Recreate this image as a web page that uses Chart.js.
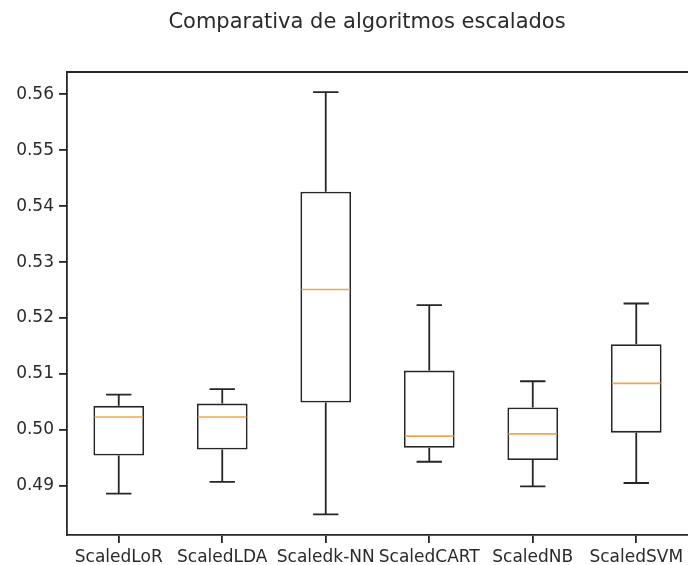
<!DOCTYPE html>
<html>
<head>
<meta charset="utf-8">
<script src="https://cdn.jsdelivr.net/npm/chart.js@4/dist/chart.umd.min.js"></script>
<style>
  html, body { margin: 0; padding: 0; background: #fff; overflow: hidden; }
  #wrap { width: 688px; height: 565px; }
</style>
</head>
<body>
<div id="wrap"><canvas id="box-chart"></canvas></div>
<script>
// box plot values
const algorithms = ["ScaledLoR", "ScaledLDA", "Scaledk-NN", "ScaledCART", "ScaledNB", "ScaledSVM"];
const whiskerLow  = [0.4886, 0.4907, 0.4849, 0.4943, 0.4899, 0.4905];
const quartile1   = [0.4954, 0.4965, 0.5049, 0.4968, 0.4946, 0.4995];
const medians     = [0.5023, 0.5023, 0.5251, 0.4989, 0.4993, 0.5083];
const quartile3   = [0.5043, 0.5047, 0.5426, 0.5106, 0.5040, 0.5153];
const whiskerHigh = [0.5063, 0.5073, 0.5604, 0.5223, 0.5087, 0.5226];
const yTicks = [0.49, 0.50, 0.51, 0.52, 0.53, 0.54, 0.55, 0.56];

const titleText = "Comparativa de algoritmos escalados";
const ink = "#262626";
const textInk = "#2a2a2a";
const fontFamily = "'DejaVu Sans', sans-serif";
const lineW = 1.8;

// whiskers, caps, medians, top frame and title
const boxExtras = {
  id: "boxExtras",
  afterDatasetsDraw(chart) {
    const ctx = chart.ctx;
    const x = chart.scales.x;
    const y = chart.scales.y;
    const area = chart.chartArea;
    const meta = chart.getDatasetMeta(0);
    ctx.save();
    ctx.lineCap = "butt";
    algorithms.forEach((name, i) => {
      const cx = x.getPixelForValue(i);
      const half = meta.data[i].width / 2;
      const cap = half / 2;
      ctx.strokeStyle = ink;
      ctx.lineWidth = lineW;
      ctx.beginPath();
      // lower whisker
      ctx.moveTo(cx, y.getPixelForValue(quartile1[i]));
      ctx.lineTo(cx, y.getPixelForValue(whiskerLow[i]));
      ctx.moveTo(cx - cap, y.getPixelForValue(whiskerLow[i]));
      ctx.lineTo(cx + cap, y.getPixelForValue(whiskerLow[i]));
      // upper whisker
      ctx.moveTo(cx, y.getPixelForValue(quartile3[i]));
      ctx.lineTo(cx, y.getPixelForValue(whiskerHigh[i]));
      ctx.moveTo(cx - cap, y.getPixelForValue(whiskerHigh[i]));
      ctx.lineTo(cx + cap, y.getPixelForValue(whiskerHigh[i]));
      ctx.stroke();
      // median
      ctx.strokeStyle = "#f2a650";
      ctx.lineWidth = 1.7;
      ctx.beginPath();
      ctx.moveTo(cx - half + 1, y.getPixelForValue(medians[i]));
      ctx.lineTo(cx + half - 1, y.getPixelForValue(medians[i]));
      ctx.stroke();
    });
    // top frame line
    ctx.strokeStyle = ink;
    ctx.lineWidth = lineW;
    ctx.beginPath();
    ctx.moveTo(area.left, area.top);
    ctx.lineTo(area.right, area.top);
    ctx.stroke();
    // title
    ctx.fillStyle = textInk;
    ctx.font = "21px " + fontFamily;
    ctx.textAlign = "center";
    ctx.textBaseline = "alphabetic";
    ctx.fillText(titleText, 367, 28);
    ctx.restore();
  }
};

const ctx = document.getElementById("box-chart").getContext("2d");

new Chart(ctx, {
  type: "bar",
  data: {
    labels: algorithms,
    datasets: [
      {
        label: "IQR",
        data: algorithms.map((_, i) => [quartile1[i], quartile3[i]]),
        backgroundColor: "#ffffff",
        borderColor: ink,
        borderWidth: lineW,
        borderSkipped: false,
        barPercentage: 0.49,
        categoryPercentage: 1.0,
      },
    ],
  },
  options: {
    responsive: true,
    maintainAspectRatio: false,
    animation: false,
    layout: { padding: { top: 72, right: 0, left: 0, bottom: 0 } },
    plugins: {
      legend: { display: false },
      title: { display: false },
      tooltip: { enabled: false },
    },
    scales: {
      x: {
        type: "category",
        offset: true,
        grid: { display: true, offset: false, drawOnChartArea: false, drawTicks: true, tickLength: 8, color: ink, lineWidth: lineW },
        border: { display: true, color: ink, width: lineW },
        ticks: { color: textInk, font: { family: fontFamily, size: 17 }, padding: 4, maxRotation: 0, autoSkip: false },
        afterFit(scale) { scale.height = 30; },
      },
      y: {
        type: "linear",
        min: 0.4812,
        max: 0.5640,
        grid: { display: true, drawOnChartArea: false, drawTicks: true, tickLength: 8, color: ink, lineWidth: lineW },
        border: { display: true, color: ink, width: lineW },
        ticks: {
          color: textInk,
          font: { family: fontFamily, size: 17 },
          padding: 5,
          callback: (v) => Number(v).toFixed(2),
        },
        afterBuildTicks(scale) { scale.ticks = yTicks.map((v) => ({ value: v })); },
        afterFit(scale) { scale.width = 67; },
      },
    },
  },
  plugins: [boxExtras],
});
</script>
</body>
</html>
